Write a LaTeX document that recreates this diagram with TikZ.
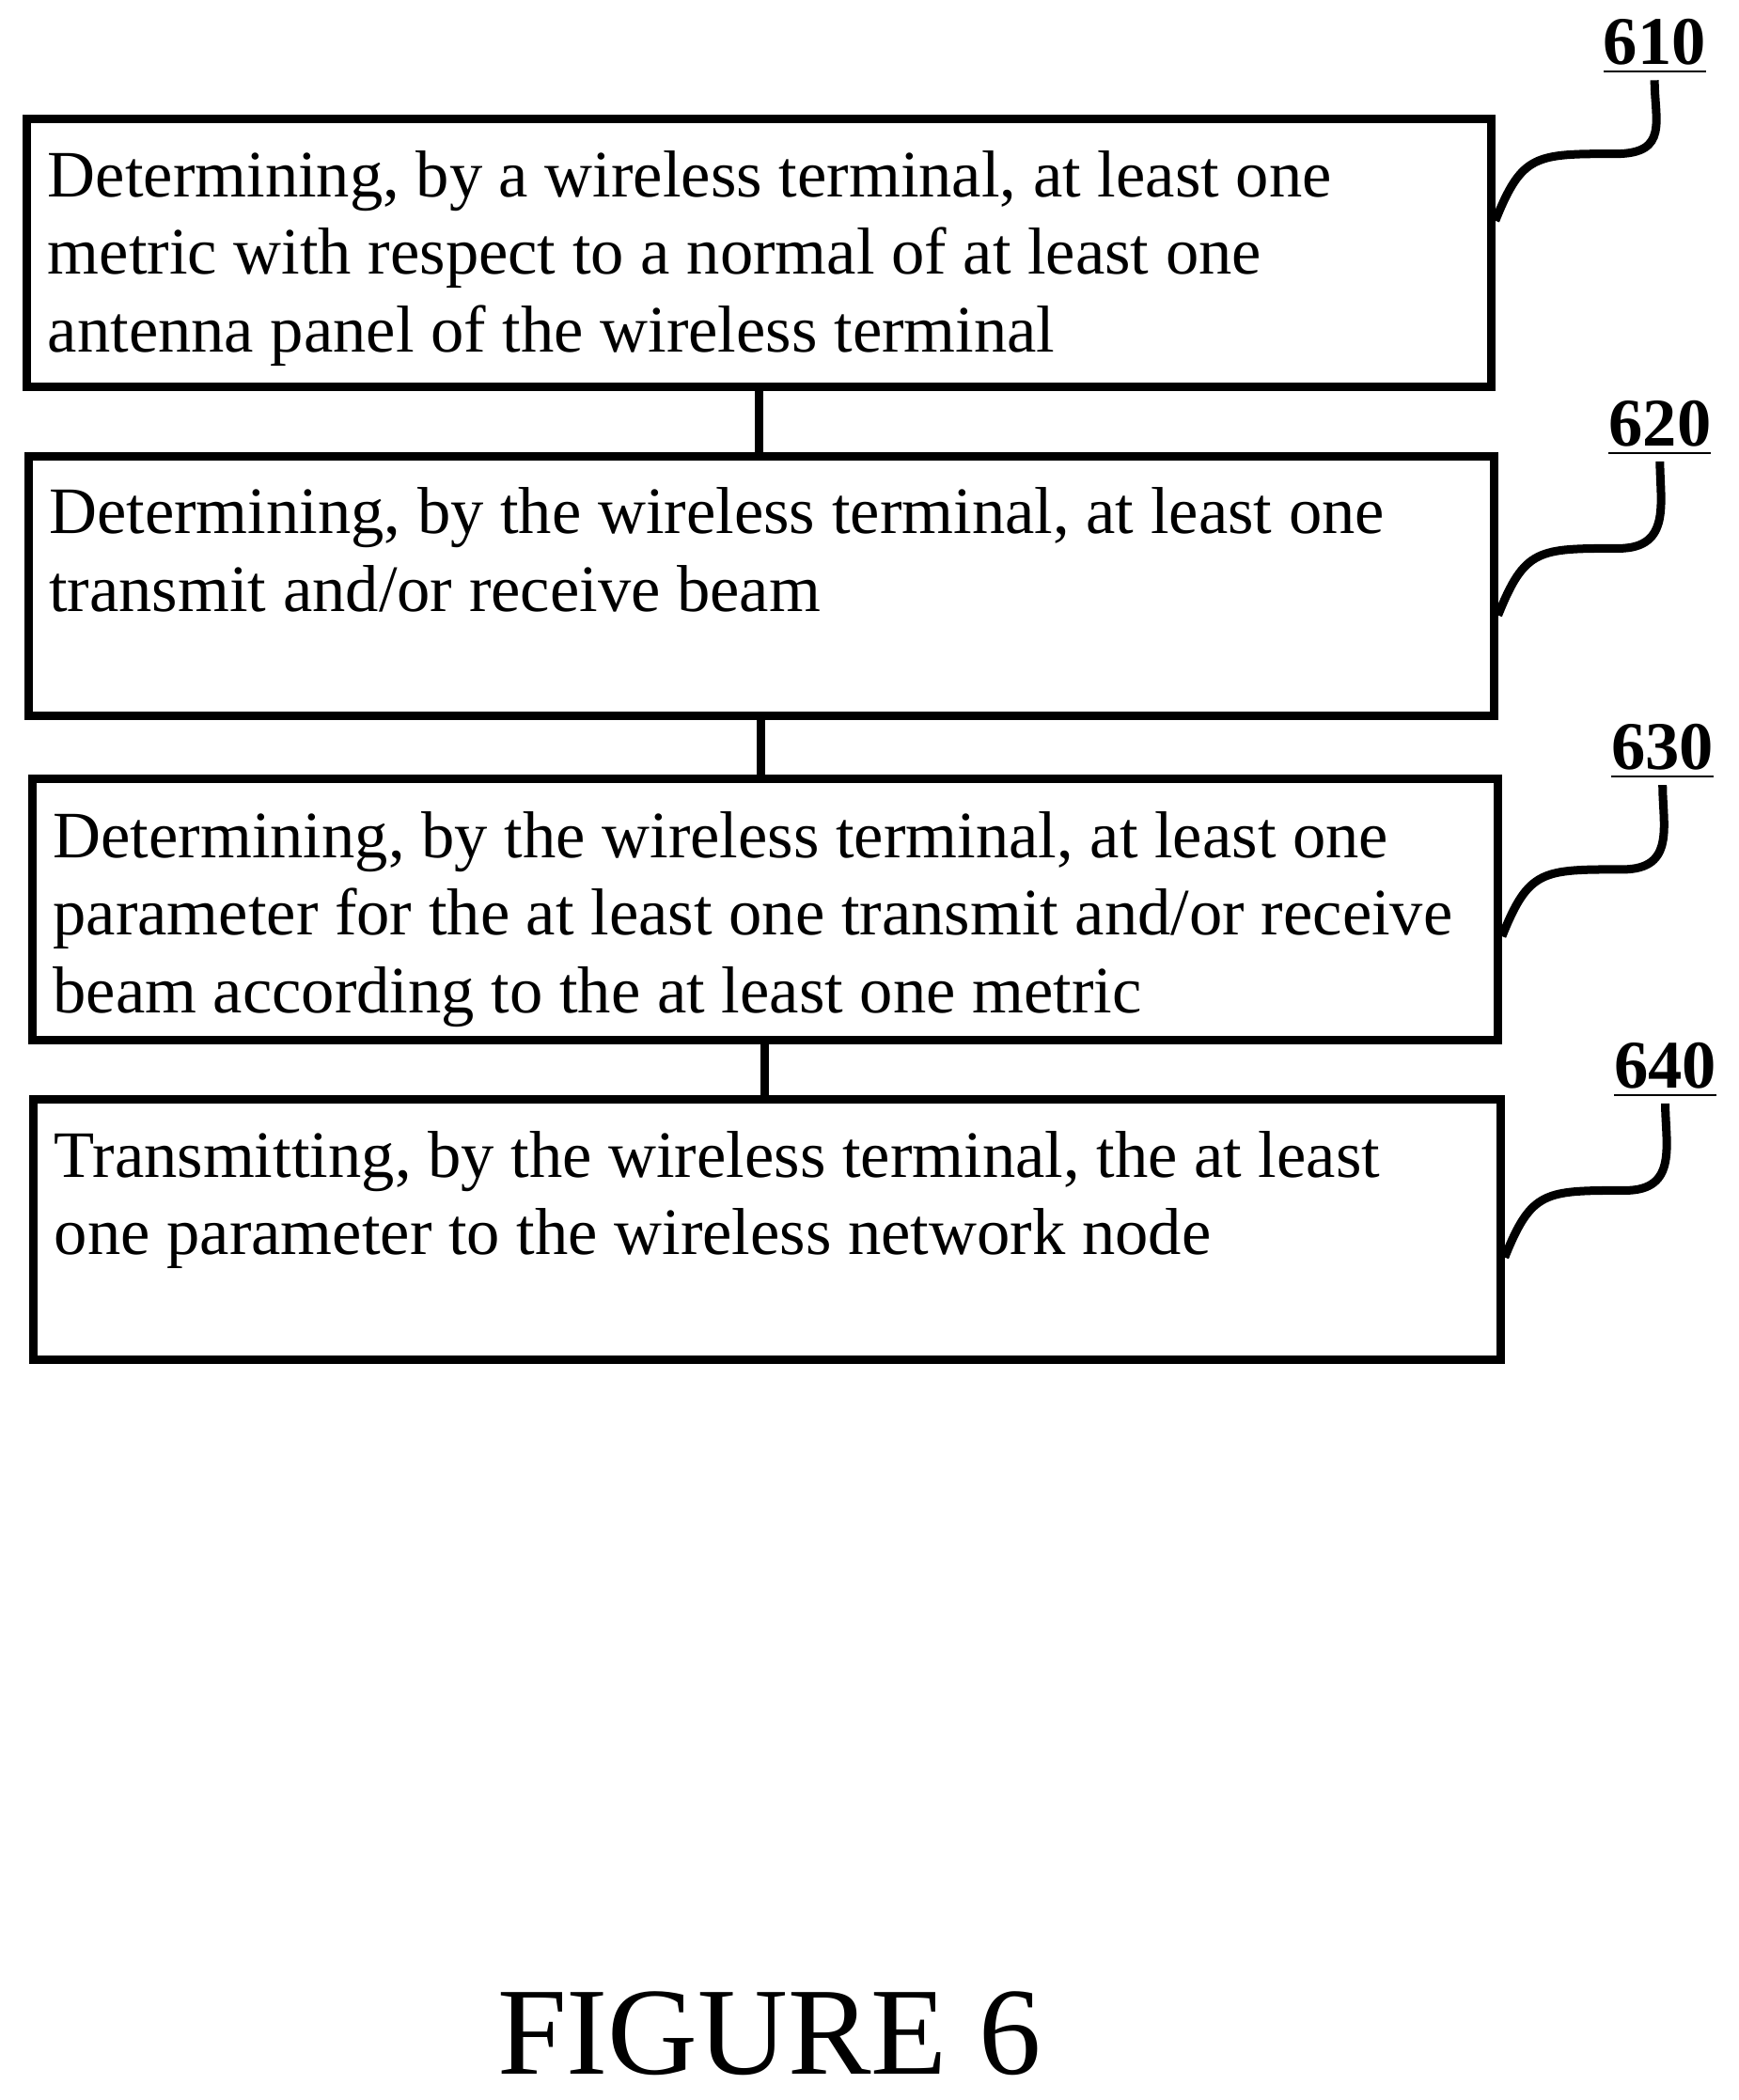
\documentclass[tikz,border=0pt]{standalone}
\usepackage{fontspec}
\setmainfont{Liberation Serif}
\begin{document}
\begin{tikzpicture}[x=0.01cm,y=-0.01cm,
  stepbox/.style={draw,line width=1.8pt},
  steptext/.style={anchor=north west,align=left,font=\fontsize{14.1}{16.5}\selectfont,inner sep=0pt},
  reflabel/.style={font=\fontsize{14.5}{17}\selectfont\bfseries,inner sep=1pt},
  lead/.style={line width=1.8pt},
  conn/.style={line width=1.8pt}]
\useasboundingbox (0,0) rectangle (1300,1570);
\node[stepbox,minimum width=10.94cm,minimum height=2cm,anchor=north west] (b1) at (17,86) {};
\node[stepbox,minimum width=10.95cm,minimum height=1.94cm,anchor=north west] (b2) at (18,338) {};
\node[stepbox,minimum width=10.95cm,minimum height=1.95cm,anchor=north west] (b3) at (21,579) {};
\node[stepbox,minimum width=10.96cm,minimum height=1.94cm,anchor=north west] (b4) at (22,819) {};
\node[steptext] (t1) at (35,112) {Determining, by a wireless terminal, at least one\\metric with respect to a normal of at least one\\antenna panel of the wireless terminal};
\node[steptext] (t2) at (36,364) {Determining, by the wireless terminal, at least one\\transmit and/or receive beam};
\node[steptext] (t3) at (39,606) {Determining, by the wireless terminal, at least one\\parameter for the at least one transmit and/or receive\\beam according to the at least one metric};
\node[steptext] (t4) at (40,845) {Transmitting, by the wireless terminal, the at least\\one parameter to the wireless network node};
\draw[conn] (b1.south) -- (b1.south |- b2.north);
\draw[conn] (b2.south) -- (b2.south |- b3.north);
\draw[conn] (b3.south) -- (b3.south |- b4.north);
\node[reflabel] (l1) at (1237,35) {\underline{610}};
\node[reflabel] (l2) at (1241,320) {\underline{620}};
\node[reflabel] (l3) at (1243,562) {\underline{630}};
\node[reflabel] (l4) at (1245,800) {\underline{640}};
\foreach \b/\l/\yy in {b1/l1/165, b2/l2/460, b3/l3/700, b4/l4/940}{
  \coordinate (s\b) at (\b.east |- 0,\yy);
  \draw[lead] (s\b) .. controls ++(20,-50) and ++(-60,0) .. ++(90,-50)
     .. controls ++(40,0) and ++(0,30) .. (\l.south);
}
\node[font=\fontsize{26.5}{32}\selectfont,inner sep=0pt] (fig) at (575,1520) {FIGURE 6};
\end{tikzpicture}
\end{document}
